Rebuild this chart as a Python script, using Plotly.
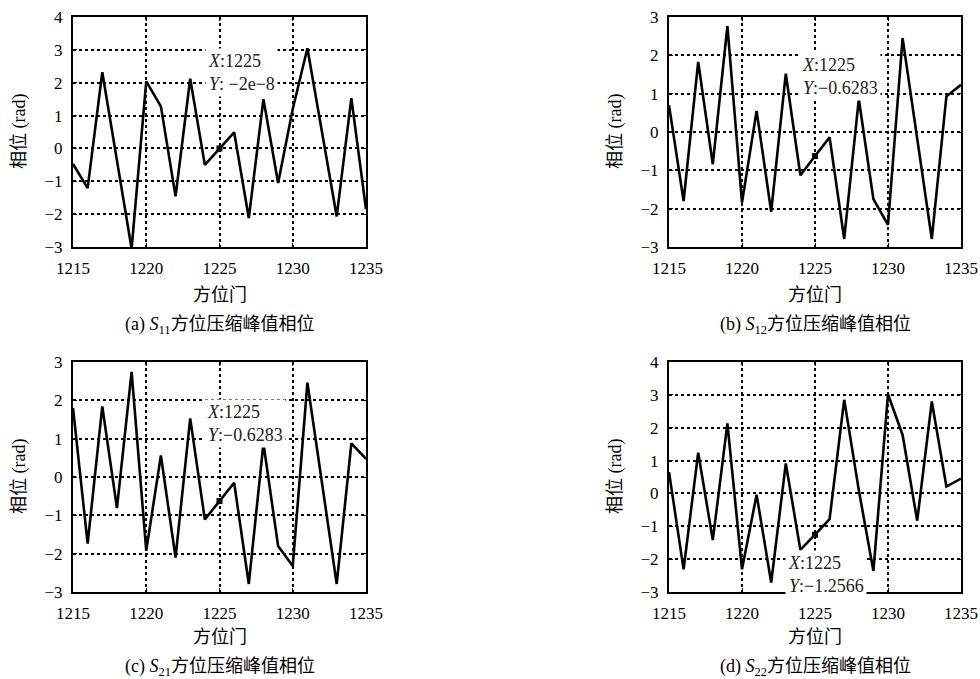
import plotly.graph_objects as go
from plotly.subplots import make_subplots

gates = list(range(1215, 1236))

phase_s11 = [-0.47, -1.21, 2.32, -0.3, -3.05, 2.04, 1.28, -1.46, 2.12, -0.50, 0.0,
             0.49, -2.12, 1.50, -1.05, 1.2, 3.05, 0.5, -2.07, 1.53, -1.85]
phase_s12 = [0.7, -1.80, 1.83, -0.84, 2.76, -1.84, 0.55, -2.08, 1.52, -1.13, -0.6283,
             -0.14, -2.79, 0.86, -1.75, -2.42, 2.45, -0.2, -2.79, 0.93, 1.23]
phase_s21 = [1.8, -1.74, 1.84, -0.81, 2.74, -1.92, 0.56, -2.10, 1.53, -1.11, -0.6283,
             -0.15, -2.79, 0.88, -1.80, -2.32, 2.46, -0.2, -2.79, 0.88, 0.47]
phase_s22 = [0.65, -2.31, 1.24, -1.42, 2.13, -2.31, -0.04, -2.71, 0.91, -1.72, -1.2566,
             -0.78, 2.85, 0.1, -2.36, 3.02, 1.78, -0.83, 2.80, 0.21, 0.45]

series = [phase_s11, phase_s12, phase_s21, phase_s22]
y_ranges = [[-3, 4], [-3, 3], [-3, 3], [-3, 4]]
captions = ["(a) <i>S</i><sub>11</sub>方位压缩峰值相位",
            "(b) <i>S</i><sub>12</sub>方位压缩峰值相位",
            "(c) <i>S</i><sub>21</sub>方位压缩峰值相位",
            "(d) <i>S</i><sub>22</sub>方位压缩峰值相位"]
tip_x = 1225
tip_texts = ["<i>X</i>:1225<br><i>Y</i>: −2e−8",
             "<i>X</i>:1225<br><i>Y</i>:−0.6283",
             "<i>X</i>:1225<br><i>Y</i>:−0.6283",
             "<i>X</i>:1225<br><i>Y</i>:−1.2566"]

W, H = 980, 679
# panel pixel boxes (left, right, top, bottom)
boxes = [(73, 366, 17, 247), (669, 961, 17, 247), (73, 366, 362, 592), (669, 961, 362, 592)]
# datatip text top-left pixel positions
tip_pos = [(205, 48), (799, 52), (204, 399), (785, 550)]

FONT = "Liberation Serif, DejaVu Serif, Noto Sans CJK SC, serif"

fig = make_subplots(rows=2, cols=2)
layout_updates = {}
annotations = []
for i, ys in enumerate(series):
    r, c = i // 2 + 1, i % 2 + 1
    fig.add_trace(go.Scatter(x=gates, y=ys, mode="lines",
                             line=dict(color="black", width=2.6),
                             showlegend=False), row=r, col=c)
    idx = gates.index(tip_x)
    fig.add_trace(go.Scatter(x=[tip_x], y=[ys[idx]], mode="markers",
                             marker=dict(color="black", size=6, symbol="square"),
                             showlegend=False), row=r, col=c)
    L, R, T, B = boxes[i]
    xa = "xaxis" if i == 0 else f"xaxis{i+1}"
    ya = "yaxis" if i == 0 else f"yaxis{i+1}"
    common = dict(showline=True, mirror="ticks", linecolor="black", linewidth=2,
                  ticks="inside", ticklen=4, tickcolor="black", tickwidth=1,
                  showgrid=True, gridcolor="black", gridwidth=2, griddash="dot",
                  zeroline=False, automargin=False,
                  tickfont=dict(family=FONT, size=17, color="black"))
    layout_updates[xa] = dict(domain=[L / W, R / W], range=[1215, 1235], dtick=5,
                              tick0=1215, ticklabelstandoff=5, **common)
    layout_updates[ya] = dict(domain=[1 - B / H, 1 - T / H], range=y_ranges[i], dtick=1,
                              ticklabelstandoff=5, **common)
    cx = (L + R) / 2
    off = 0 if i < 2 else 342
    annotations.append(dict(text="方位门", x=cx / W, y=1 - (295 + off) / H,
                            xref="paper", yref="paper", showarrow=False,
                            xanchor="center", yanchor="middle",
                            font=dict(family=FONT, size=18, color="black")))
    annotations.append(dict(text=captions[i], x=cx / W, y=1 - (325 + off) / H,
                            xref="paper", yref="paper", showarrow=False,
                            xanchor="center", yanchor="middle",
                            font=dict(family=FONT, size=18, color="black")))
    annotations.append(dict(text="相位 (rad)", x=(L - 53) / W, y=1 - ((T + B) / 2) / H,
                            xref="paper", yref="paper", showarrow=False, textangle=-90,
                            xanchor="center", yanchor="middle",
                            font=dict(family=FONT, size=18, color="black")))
    tx, ty = tip_pos[i]
    annotations.append(dict(text=tip_texts[i], x=tx / W, y=1 - ty / H, xref="paper", yref="paper",
                            xanchor="left", yanchor="top", align="left", showarrow=False,
                            bgcolor="white", borderpad=2,
                            font=dict(family=FONT, size=18, color="#222222")))

fig.update_layout(width=W, height=H, margin=dict(l=0, r=0, t=0, b=0),
                  paper_bgcolor="white", plot_bgcolor="white",
                  annotations=annotations, **layout_updates)
fig.write_html("out.html")
